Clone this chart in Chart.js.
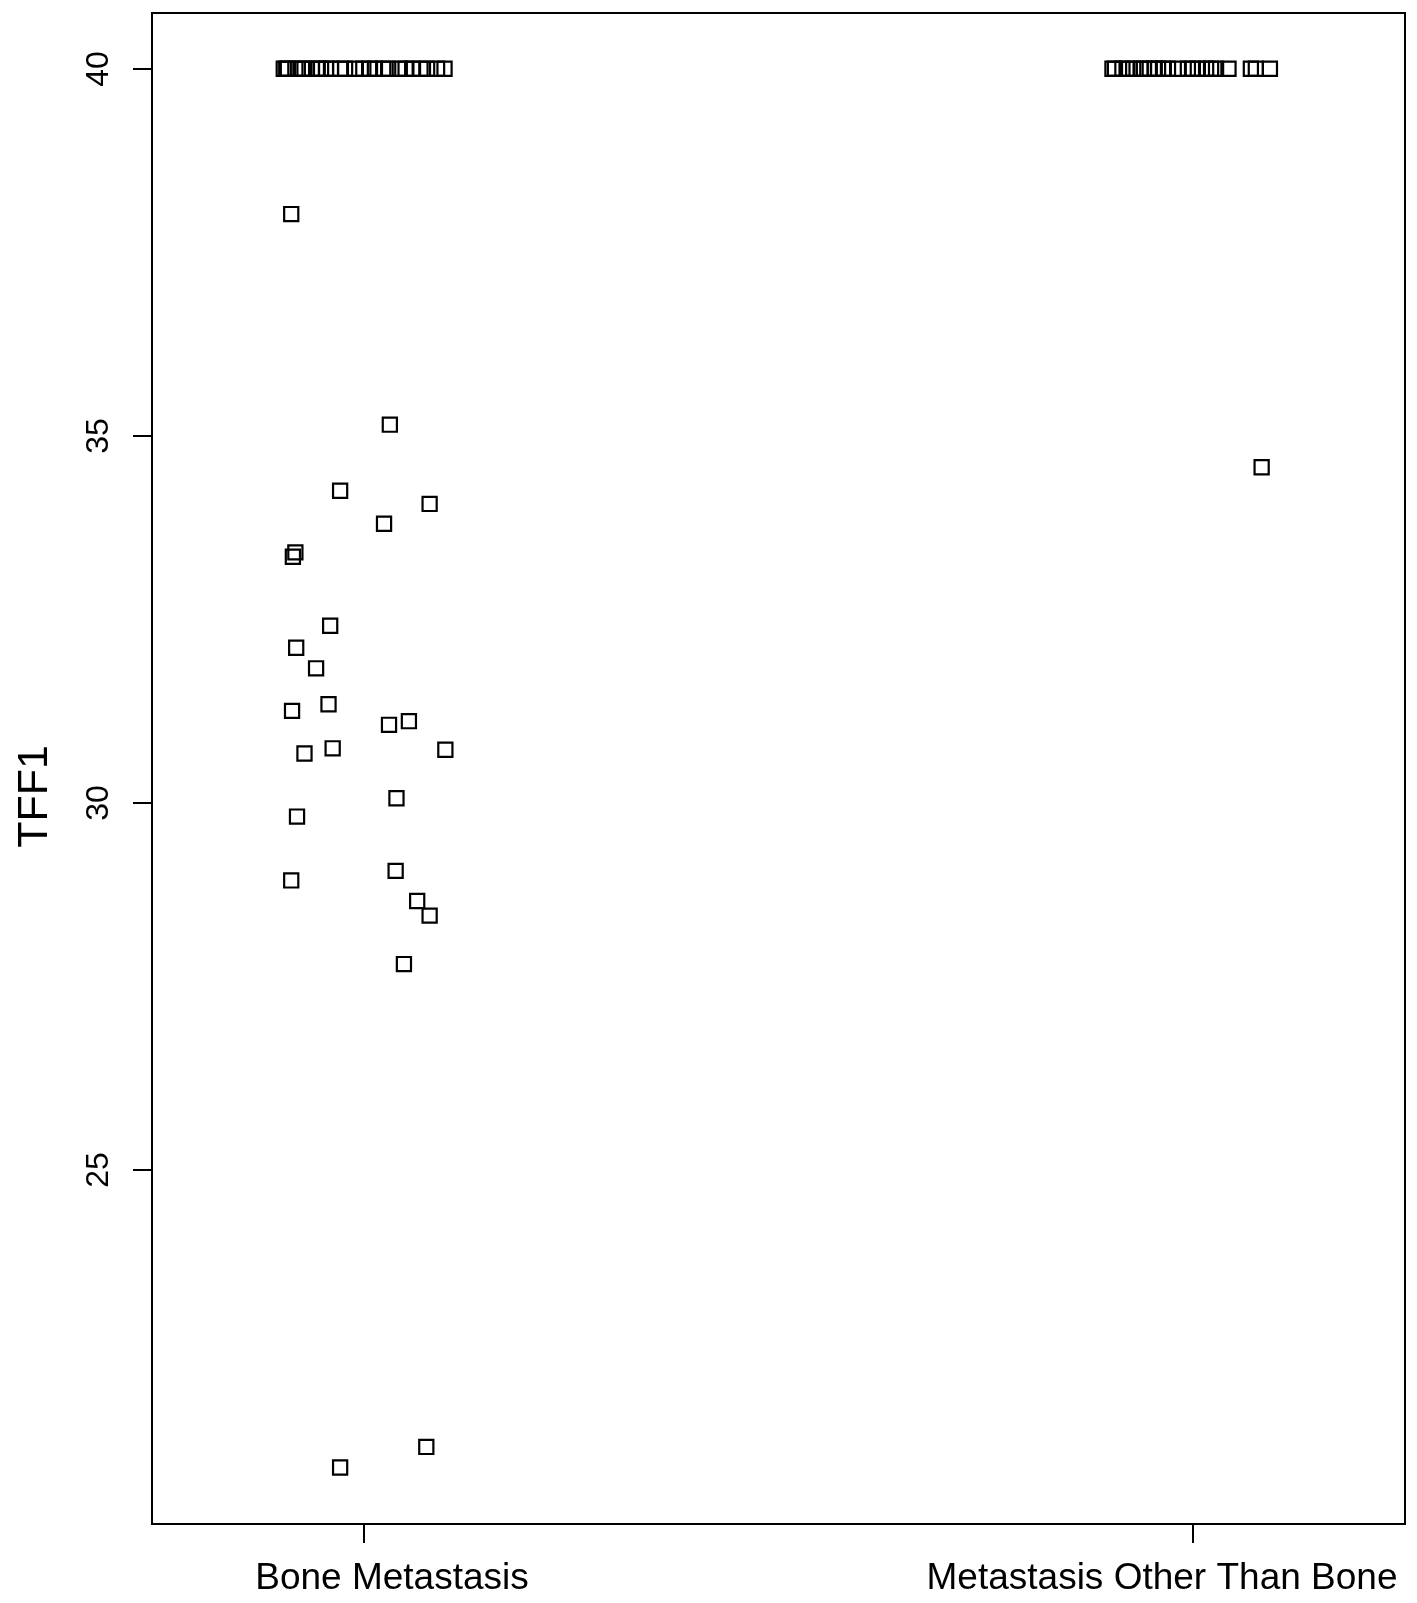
<!DOCTYPE html>
<html>
<head>
<meta charset="utf-8">
<script src="https://cdn.jsdelivr.net/npm/chart.js@4/dist/chart.umd.min.js"></script>
<style>
  html, body { margin: 0; padding: 0; background: #ffffff; }
  #wrap { width: 1417px; height: 1603px; }
</style>
</head>
<body>
<div id="wrap"><canvas id="c" width="1417" height="1603"></canvas></div>
<script>
// ---- data ----
const categories = ['Bone Metastasis', 'Metastasis Other Than Bone'];
const yTicks = [25, 30, 35, 40];
const yTitle = 'TFF1';

// Bone Metastasis: TFF1 values and horizontal jitter (category units)
const boneValues = [
  40, 40, 40, 40, 40, 40, 40, 40, 40, 40, 40, 40, 40,
  40, 40, 40, 40, 40, 40, 40, 40, 40, 40, 40, 40, 40,
  38.02, 35.15, 34.25, 34.07, 33.80, 33.41, 33.35, 32.41, 32.11, 31.83,
  31.25, 31.34, 31.06, 31.11, 30.67, 30.74, 30.72, 30.06, 29.81, 29.07,
  28.94, 28.66, 28.46, 27.80, 20.94, 21.22
];
const boneJitter = [
  -0.097, -0.094, -0.092, -0.083, -0.075, -0.072, -0.063, -0.056, -0.052, -0.046, -0.040, -0.029, -0.023,
  -0.011, -0.001, 0.007, 0.013, 0.023, 0.029, 0.043, 0.050, 0.058, 0.068, 0.076, 0.088, 0.097,
  -0.088, 0.031, -0.029, 0.079, 0.024, -0.083, -0.086, -0.041, -0.082, -0.058,
  -0.087, -0.043, 0.030, 0.054, -0.072, -0.038, 0.098, 0.039, -0.081, 0.038,
  -0.088, 0.064, 0.079, 0.048, -0.029, 0.075
];

// Metastasis Other Than Bone
const otherValues = [
  40, 40, 40, 40, 40, 40, 40, 40, 40, 40, 40, 40,
  40, 40, 40, 40, 40, 40, 40, 40, 40, 40, 40, 34.57
];
const otherJitter = [
  -0.097, -0.094, -0.085, -0.079, -0.072, -0.063, -0.059, -0.052, -0.046, -0.042, -0.036, -0.030,
  -0.018, -0.006, 0.000, 0.006, 0.016, 0.022, 0.028, 0.043, 0.070, 0.076, 0.093, 0.083
];

// ---- build ----
function pts(vals, jit, pos) {
  return vals.map((v, i) => ({ x: pos + jit[i], y: v }));
}

const FONT = '"Liberation Sans", Arial, Helvetica, sans-serif';

const framePlugin = {
  id: 'frame',
  afterDraw(chart) {
    const ctx = chart.ctx;
    const a = chart.chartArea;
    const xs = chart.scales.x, ys = chart.scales.y;
    ctx.save();
    ctx.strokeStyle = '#000';
    ctx.fillStyle = '#000';
    ctx.lineWidth = 2;
    // box
    ctx.strokeRect(a.left, a.top, a.right - a.left, a.bottom - a.top);
    // y ticks
    ctx.font = '32px ' + FONT;
    ctx.textAlign = 'center';
    ctx.textBaseline = 'alphabetic';
    yTicks.forEach(t => {
      const y = Math.round(ys.getPixelForValue(t));
      ctx.beginPath();
      ctx.moveTo(a.left - 19, y);
      ctx.lineTo(a.left, y);
      ctx.stroke();
      ctx.save();
      ctx.translate(a.left - 44, y);
      ctx.rotate(-Math.PI / 2);
      ctx.fillText(String(t), 0, 0);
      ctx.restore();
    });
    // x ticks
    const labelShift = [28, -31];
    ctx.font = '37px ' + FONT;
    categories.forEach((c, i) => {
      const x = Math.round(xs.getPixelForValue(i + 1));
      ctx.beginPath();
      ctx.moveTo(x, a.bottom);
      ctx.lineTo(x, a.bottom + 19);
      ctx.stroke();
      ctx.fillText(c, x + labelShift[i], a.bottom + 65);
    });
    // y title
    ctx.font = '43px ' + FONT;
    ctx.save();
    ctx.translate(a.left - 105, (a.top + a.bottom) / 2 + 28);
    ctx.rotate(-Math.PI / 2);
    ctx.fillText(yTitle, 0, 0);
    ctx.restore();
    ctx.restore();
  }
};

const pointStyle = {
  pointStyle: 'rect',
  pointRadius: 10,
  pointHoverRadius: 10,
  pointBorderWidth: 2.2,
  borderColor: '#000000',
  backgroundColor: 'rgba(0,0,0,0)',
  showLine: false
};

new Chart(document.getElementById('c'), {
  type: 'scatter',
  data: {
    datasets: [
      Object.assign({ label: categories[0], data: pts(boneValues, boneJitter, 1) }, pointStyle),
      Object.assign({ label: categories[1], data: pts(otherValues, otherJitter, 2) }, pointStyle)
    ]
  },
  options: {
    responsive: false,
    animation: false,
    events: [],
    layout: { autoPadding: false, padding: { left: 152, top: 13, right: 12, bottom: 79 } },
    plugins: { legend: { display: false }, tooltip: { enabled: false } },
    scales: {
      x: { type: 'linear', min: 0.744, max: 2.256, display: false },
      y: { type: 'linear', min: 20.17, max: 40.76, display: false }
    }
  },
  plugins: [framePlugin]
});
</script>
</body>
</html>
